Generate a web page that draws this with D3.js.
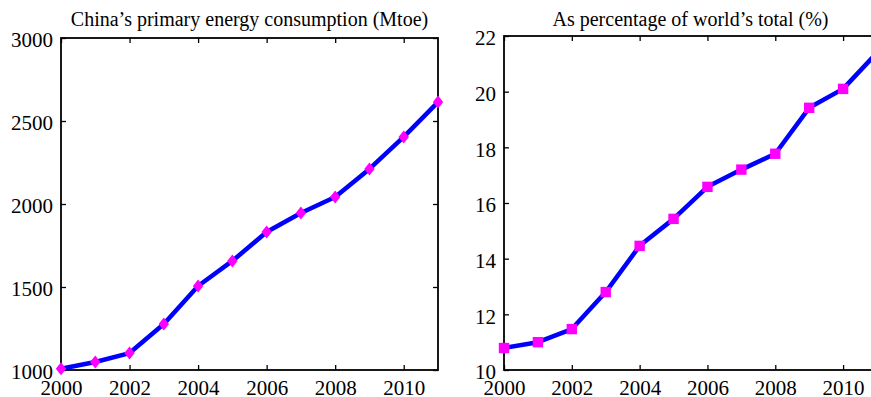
<!DOCTYPE html>
<html>
<head>
<meta charset="utf-8">
<script src="https://cdn.jsdelivr.net/npm/d3@7"></script>
<style>
  body { margin: 0; background: #fff; }
  svg { display: block; }
  text { font-family: "Liberation Serif", "Times New Roman", serif; fill: #000; }
</style>
</head>
<body>
<svg id="chart" width="871" height="397"></svg>
<script>
// データ
const years = [2000, 2001, 2002, 2003, 2004, 2005, 2006, 2007, 2008, 2009, 2010, 2011];
const consumption = [1008, 1048, 1102, 1277, 1506, 1657, 1831, 1946, 2042, 2211, 2404, 2614];
const worldShare = [10.79, 11.0, 11.47, 12.8, 14.46, 15.43, 16.58, 17.2, 17.77, 19.42, 20.1, 21.4];
const xTicks = [2000, 2002, 2004, 2006, 2008, 2010];
const leftTicks = [1000, 1500, 2000, 2500, 3000];
const rightTicks = [10, 12, 14, 16, 18, 20, 22];

const svg = d3.select('#chart');

// パネルを描画する
function drawPanel(opt) {
    const x = d3.scaleLinear().domain([2000, 2011]).range([opt.left, opt.right]);
    const y = d3.scaleLinear().domain(opt.yDomain).range([opt.bottom, opt.top]);
    const g = svg.append('g');

    // 枠線
    g.append('rect')
        .attr('x', opt.left).attr('y', opt.top)
        .attr('width', opt.right - opt.left).attr('height', opt.bottom - opt.top)
        .attr('fill', 'none').attr('stroke', '#000').attr('stroke-width', 1.8);

    // 目盛り（内向き）
    const tk = 5;
    g.append('g').attr('class', 'xb').attr('transform', `translate(0,${opt.bottom})`)
        .call(d3.axisBottom(x).tickValues(xTicks).tickSize(-tk).tickPadding(10).tickFormat(d3.format('d')))
        .call(a => a.select('.domain').remove());
    g.append('g').attr('transform', `translate(0,${opt.top})`)
        .call(d3.axisTop(x).tickValues(xTicks).tickSize(-tk).tickFormat(''))
        .call(a => a.select('.domain').remove());
    g.append('g').attr('class', 'yl').attr('transform', `translate(${opt.left},0)`)
        .call(d3.axisLeft(y).tickValues(opt.yTicks).tickSize(-tk).tickPadding(8).tickFormat(d3.format('d')))
        .call(a => a.select('.domain').remove());
    g.append('g').attr('transform', `translate(${opt.right},0)`)
        .call(d3.axisRight(y).tickValues(opt.yTicks).tickSize(-tk).tickFormat(''))
        .call(a => a.select('.domain').remove());

    g.selectAll('.tick line').attr('stroke', '#000').attr('stroke-width', 1.3);
    g.selectAll('.tick text').attr('font-size', 21).attr('fill', '#000')
        .style('font-family', '"Liberation Serif", "Times New Roman", serif');
    g.selectAll('.yl .tick text').attr('dy', '0.42em');

    // 折れ線
    const line = d3.line().x((d, i) => x(years[i])).y(d => y(d));
    g.append('path')
        .datum(opt.values)
        .attr('d', line)
        .attr('fill', 'none')
        .attr('stroke', '#0000ff')
        .attr('stroke-width', 4.5)
        .attr('stroke-linejoin', 'round');

    // マーカー
    g.selectAll('.marker')
        .data(opt.values)
        .enter()
        .append('path')
        .attr('class', 'marker')
        .attr('transform', (d, i) => `translate(${x(years[i])},${y(d)})`)
        .attr('d', opt.marker === 'diamond' ? 'M0,-6.5L5.2,0L0,6.5L-5.2,0Z' : 'M-5.2,-5.2H5.2V5.2H-5.2Z')
        .attr('fill', '#ff00ff');

    // タイトル
    g.append('text')
        .attr('x', (opt.left + opt.right) / 2)
        .attr('y', 26)
        .attr('text-anchor', 'middle')
        .attr('font-size', 20)
        .text(opt.title);
}

drawPanel({
    left: 61, right: 438, top: 38, bottom: 370,
    yDomain: [1000, 3000], yTicks: leftTicks,
    values: consumption, marker: 'diamond',
    title: 'China\u2019s primary energy consumption (Mtoe)'
});

drawPanel({
    left: 504, right: 877, top: 36, bottom: 370,
    yDomain: [10, 22], yTicks: rightTicks,
    values: worldShare, marker: 'square',
    title: 'As percentage of world\u2019s total (%)'
});
</script>
</body>
</html>
